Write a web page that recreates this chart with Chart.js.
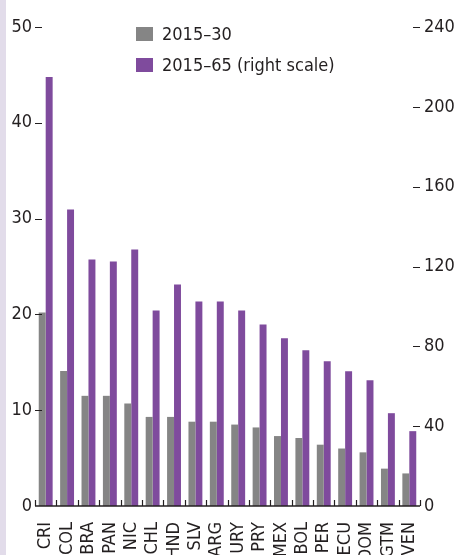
<!DOCTYPE html>
<html>
<head>
<meta charset="utf-8">
<script src="https://cdn.jsdelivr.net/npm/chart.js@4/dist/chart.umd.min.js"></script>
<style>
  html, body { margin: 0; padding: 0; background: #fff; }
  #wrap {
    position: relative;
    width: 458px;
    height: 555px;
    background: linear-gradient(to right, #e2dcea 6px, #ffffff 6px);
  }
</style>
</head>
<body>
<div id="wrap"><canvas id="chart" width="458" height="555"></canvas></div>
<script>
const countries = ["CRI", "COL", "BRA", "PAN", "NIC", "CHL", "HND", "SLV", "ARG",
  "URY", "PRY", "MEX", "BOL", "PER", "ECU", "DOM", "GTM", "VEN"];
const change2030 = [20.2, 14.1, 11.5, 11.5, 10.7, 9.3, 9.3, 8.8, 8.8,
  8.5, 8.2, 7.3, 7.1, 6.4, 6.0, 5.6, 3.9, 3.4];
const change2065 = [215, 148.5, 123.5, 122.5, 128.5, 98, 111, 102.5, 102.5,
  98, 91, 84, 78, 72.5, 67.5, 63, 46.5, 37.5];
const seriesNames = ["2015\u201330", "2015\u201365 (right scale)"];
const leftTicks = { max: 50, step: 10 };
const rightTicks = { max: 240, step: 40 };

const ink = "#231f20";
const grey = "#858585";
const purple = "#7f4b9d";
const fontFamily = "'Liberation Sans Narrow', 'DejaVu Sans Condensed', Roboto, sans-serif";
const fontSize = 18;

Chart.defaults.font.family = fontFamily;
Chart.defaults.font.size = fontSize;
Chart.defaults.color = ink;

// baseline, upward category ticks and the short value dashes on both sides
const axisMarks = {
  id: "axisMarks",
  afterDatasetsDraw(chart) {
    const { ctx, chartArea } = chart;
    const x = chart.scales.x;
    const y = chart.scales.y;
    const y2 = chart.scales.y2;
    ctx.save();
    ctx.strokeStyle = ink;

    ctx.lineWidth = 1;
    y.ticks.forEach((t) => {
      if (t.value === 0) return;
      const py = Math.round(y.getPixelForValue(t.value)) + 0.5;
      ctx.beginPath();
      ctx.moveTo(chartArea.left, py);
      ctx.lineTo(chartArea.left + 7, py);
      ctx.stroke();
    });
    y2.ticks.forEach((t) => {
      if (t.value === 0) return;
      const py = Math.round(y2.getPixelForValue(t.value)) + 0.5;
      ctx.beginPath();
      ctx.moveTo(chartArea.right - 7, py);
      ctx.lineTo(chartArea.right, py);
      ctx.stroke();
    });

    const base = y.getPixelForValue(0);
    const half = (x.getPixelForValue(1) - x.getPixelForValue(0)) / 2;
    ctx.lineWidth = 1.2;
    for (let i = 0; i <= countries.length; i++) {
      const px = Math.round(x.getPixelForValue(i) - half) + 0.5;
      ctx.beginPath();
      ctx.moveTo(px, base);
      ctx.lineTo(px, base - 6);
      ctx.stroke();
    }
    ctx.lineWidth = 1.6;
    ctx.beginPath();
    ctx.moveTo(chartArea.left, base);
    ctx.lineTo(chartArea.right, base);
    ctx.stroke();
    ctx.restore();
  },
};

// two-row legend sitting inside the plot, top centre
const insideLegend = {
  id: "insideLegend",
  afterDraw(chart) {
    const { ctx } = chart;
    ctx.save();
    ctx.font = `${fontSize}px ${fontFamily}`;
    ctx.textBaseline = "middle";
    chart.data.datasets.forEach((ds, i) => {
      const top = 27 + i * 31;
      ctx.fillStyle = ds.backgroundColor;
      ctx.fillRect(136, top, 17, 14);
      ctx.fillStyle = ink;
      ctx.fillText(ds.label, 162, top + 8);
    });
    ctx.restore();
  },
};

new Chart(document.getElementById("chart"), {
  type: "bar",
  data: {
    labels: countries,
    datasets: [
      {
        label: seriesNames[0],
        data: change2030,
        backgroundColor: grey,
        yAxisID: "y",
      },
      {
        label: seriesNames[1],
        data: change2065,
        backgroundColor: purple,
        yAxisID: "y2",
      },
    ],
  },
  options: {
    responsive: false,
    animation: false,
    layout: { padding: { top: 27, left: 0, right: 0, bottom: 0 } },
    categoryPercentage: 0.65,
    barPercentage: 1.0,
    plugins: {
      legend: { display: false },
      tooltip: { enabled: false },
    },
    scales: {
      x: {
        grid: { display: false, drawTicks: false },
        border: { display: false },
        ticks: {
          autoSkip: false,
          minRotation: 90,
          maxRotation: 90,
          padding: 16,
        },
        afterFit: (scale) => { scale.height = 49; },
      },
      y: {
        position: "left",
        min: 0,
        max: leftTicks.max,
        grid: { display: false, drawTicks: false },
        border: { display: false },
        ticks: { stepSize: leftTicks.step, padding: 3 },
        afterFit: (scale) => { scale.width = 35; },
      },
      y2: {
        position: "right",
        min: 0,
        max: rightTicks.max,
        grid: { display: false, drawTicks: false },
        border: { display: false },
        ticks: { stepSize: rightTicks.step, padding: 4 },
        afterFit: (scale) => { scale.width = 38; },
      },
    },
  },
  plugins: [axisMarks, insideLegend],
});
</script>
</body>
</html>
